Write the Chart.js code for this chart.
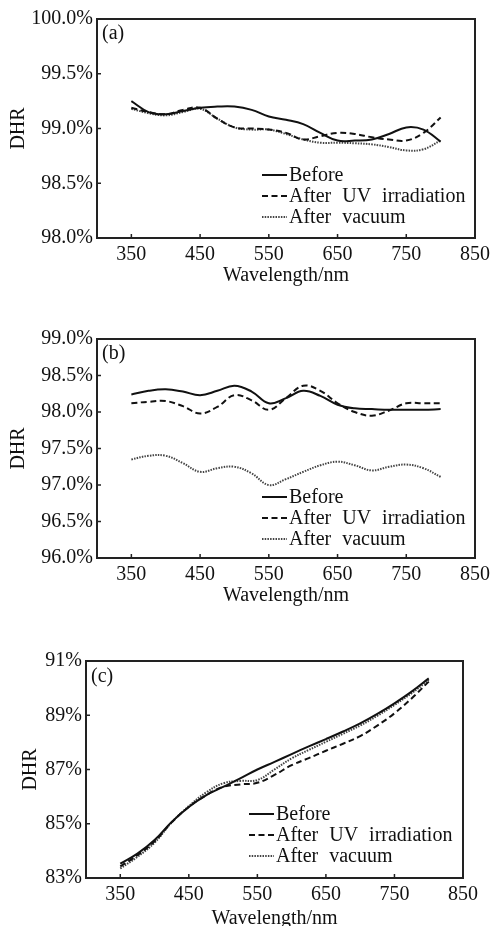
<!DOCTYPE html>
<html>
<head>
<meta charset="utf-8">
<script src="https://cdn.jsdelivr.net/npm/chart.js@4.4.1/dist/chart.umd.min.js"></script>
<style>
  body { margin: 0; width: 492px; height: 926px; overflow: hidden; background: #fff; }
  .panel { position: absolute; left: 0; width: 492px; }
</style>
</head>
<body>
<div class="panel" style="top:0"><canvas id="chartA" width="492" height="300"></canvas></div>
<div class="panel" style="top:320px"><canvas id="chartB" width="492" height="300"></canvas></div>
<div class="panel" style="top:630px"><canvas id="chartC" width="492" height="305"></canvas></div>
<script>
// shared x values and labels
var wavelengths = [350, 375, 400, 425, 450, 475, 500, 525, 550, 575, 600, 625, 650, 675, 700, 725, 750, 775, 800];
var xTicks = [350, 450, 550, 650, 750, 850];
var seriesNames = ['Before', 'After UV irradiation', 'After vacuum'];
var panelTags = ['(a)', '(b)', '(c)'];

// (a)
var aBefore = [99.25, 99.15, 99.13, 99.16, 99.19, 99.20, 99.20, 99.17, 99.11, 99.08, 99.04, 98.96, 98.89, 98.89, 98.90, 98.95, 99.01, 98.99, 98.88];
var aUV     = [99.19, 99.15, 99.13, 99.17, 99.19, 99.09, 99.01, 99.00, 98.99, 98.96, 98.90, 98.93, 98.96, 98.95, 98.92, 98.90, 98.89, 98.96, 99.10];
var aVacuum = [99.18, 99.14, 99.12, 99.15, 99.18, 99.09, 99.01, 98.99, 98.99, 98.95, 98.90, 98.87, 98.87, 98.865, 98.855, 98.83, 98.80, 98.81, 98.89];
var aYTicks = [98.0, 98.5, 99.0, 99.5, 100.0];

// (b)
var bBefore = [98.24, 98.29, 98.31, 98.28, 98.23, 98.29, 98.36, 98.28, 98.12, 98.19, 98.29, 98.22, 98.10, 98.05, 98.04, 98.03, 98.03, 98.03, 98.04];
var bUV     = [98.12, 98.14, 98.15, 98.08, 97.98, 98.07, 98.23, 98.16, 98.03, 98.19, 98.36, 98.29, 98.12, 98.00, 97.95, 98.02, 98.12, 98.12, 98.12];
var bVacuum = [97.35, 97.40, 97.40, 97.30, 97.18, 97.23, 97.25, 97.16, 97.00, 97.08, 97.18, 97.27, 97.32, 97.27, 97.20, 97.25, 97.28, 97.23, 97.11];
var bYTicks = [96.0, 96.5, 97.0, 97.5, 98.0, 98.5, 99.0];

// (c)
var cBefore = [83.53, 83.90, 84.40, 85.07, 85.62, 86.05, 86.36, 86.67, 87.00, 87.28, 87.57, 87.85, 88.12, 88.40, 88.70, 89.05, 89.44, 89.87, 90.36];
var cUV     = [83.43, 83.84, 84.35, 85.05, 85.62, 86.05, 86.36, 86.45, 86.51, 86.80, 87.16, 87.42, 87.69, 87.95, 88.23, 88.62, 89.07, 89.62, 90.24];
var cVacuum = [83.35, 83.78, 84.30, 85.05, 85.65, 86.15, 86.49, 86.58, 86.61, 87.00, 87.41, 87.72, 88.02, 88.32, 88.62, 88.98, 89.38, 89.81, 90.30];
var cYTicks = [83, 85, 87, 89, 91];

var FONT = '"Liberation Serif", "Times New Roman", serif';
var INK = '#111';

function pts(ys) {
  return wavelengths.map(function (x, i) { return {x: x, y: ys[i]}; });
}

// frame box + inward tick marks
var frameTicks = {
  id: 'frameTicks',
  afterDatasetsDraw: function (chart) {
    var ctx = chart.ctx, a = chart.chartArea, x = chart.scales.x, y = chart.scales.y;
    ctx.save();
    ctx.strokeStyle = '#222';
    ctx.lineWidth = 2;
    ctx.strokeRect(a.left, a.top, a.right - a.left, a.bottom - a.top);
    ctx.lineWidth = 1.5;
    ctx.beginPath();
    x.ticks.forEach(function (t) {
      var px = x.getPixelForValue(t.value);
      ctx.moveTo(px, a.bottom); ctx.lineTo(px, a.bottom - 4);
    });
    y.ticks.forEach(function (t) {
      var py = y.getPixelForValue(t.value);
      ctx.moveTo(a.left, py); ctx.lineTo(a.left + 4, py);
    });
    ctx.stroke();
    ctx.restore();
  }
};

// legend drawn inside the plot, plus the panel tag
var insideLegend = {
  id: 'insideLegend',
  afterDraw: function (chart, args, opts) {
    var ctx = chart.ctx, a = chart.chartArea;
    ctx.save();
    ctx.font = '20px ' + FONT;
    ctx.fillStyle = INK;
    ctx.textBaseline = 'middle';
    ctx.fillText(opts.tag, a.left + 5, a.top + opts.tagY);
    if ('wordSpacing' in ctx) ctx.wordSpacing = '6px';
    chart.data.datasets.forEach(function (ds, i) {
      var ly = a.bottom - opts.bottom + i * 21;
      var lx = a.left + opts.left;
      ctx.beginPath();
      ctx.setLineDash(ds.borderDash || []);
      ctx.lineWidth = ds.borderWidth;
      ctx.strokeStyle = ds.borderColor;
      ctx.moveTo(lx, ly); ctx.lineTo(lx + 25, ly);
      ctx.stroke();
      ctx.setLineDash([]);
      ctx.fillText(ds.label, lx + 27, ly + 1);
    });
    ctx.restore();
  }
};

function makeChart(id, series, yTicks, fmt, box) {
  return new Chart(document.getElementById(id), {
    type: 'line',
    data: {
      datasets: [
        {label: seriesNames[0], data: pts(series[0]), borderColor: '#111', borderWidth: 2, borderDash: []},
        {label: seriesNames[1], data: pts(series[1]), borderColor: '#111', borderWidth: 2, borderDash: [6, 3.5]},
        {label: seriesNames[2], data: pts(series[2]), borderColor: '#444', borderWidth: 2, borderDash: [1.5, 1.2]}
      ]
    },
    options: {
      responsive: false,
      animation: false,
      devicePixelRatio: 1,
      elements: {point: {radius: 0}, line: {tension: 0.4, fill: false}},
      layout: {padding: {top: box.top, right: box.right, left: 0, bottom: 0}},
      plugins: {
        legend: {display: false},
        tooltip: {enabled: false},
        insideLegend: {tag: box.tag, tagY: box.tagY, left: box.legLeft, bottom: box.legBottom}
      },
      scales: {
        x: {
          type: 'linear', min: 300, max: 850,
          afterBuildTicks: function (s) { s.ticks = xTicks.map(function (v) { return {value: v}; }); },
          afterFit: function (s) { s.height = box.xHeight; s.paddingRight = 0; s.paddingLeft = 0; },
          grid: {display: false, drawTicks: false},
          border: {display: false},
          ticks: {padding: 5, color: INK, font: {family: FONT, size: 20}, maxRotation: 0, autoSkip: false,
                  callback: function (v) { return String(v); }},
          title: {display: true, text: 'Wavelength/nm', color: INK, font: {family: FONT, size: 20},
                  padding: {top: 0, bottom: box.xTitlePad}}
        },
        y: {
          type: 'linear', min: yTicks[0], max: yTicks[yTicks.length - 1],
          afterBuildTicks: function (s) { s.ticks = yTicks.map(function (v) { return {value: v}; }); },
          afterFit: function (s) { s.width = box.yWidth; },
          grid: {display: false, drawTicks: false},
          border: {display: false},
          ticks: {padding: 4, color: INK, font: {family: FONT, size: 20}, callback: fmt},
          title: {display: true, text: 'DHR', color: INK, font: {family: FONT, size: 20},
                  padding: {top: box.yTitlePad, bottom: 0}}
        }
      }
    },
    plugins: [frameTicks, insideLegend]
  });
}

var pct1 = function (v) { return v.toFixed(1) + '%'; };
var pct0 = function (v) { return v.toFixed(0) + '%'; };

makeChart('chartA', [aBefore, aUV, aVacuum], aYTicks, pct1,
  {top: 19, right: 17, yWidth: 97, xHeight: 62, xTitlePad: 12, yTitlePad: 7, tag: panelTags[0], tagY: 15, legLeft: 165, legBottom: 63});
makeChart('chartB', [bBefore, bUV, bVacuum], bYTicks, pct1,
  {top: 19, right: 17, yWidth: 97, xHeight: 62, xTitlePad: 12, yTitlePad: 7, tag: panelTags[1], tagY: 15, legLeft: 165, legBottom: 61});
makeChart('chartC', [cBefore, cUV, cVacuum], cYTicks, pct0,
  {top: 31, right: 29, yWidth: 86, xHeight: 57, xTitlePad: 4, yTitlePad: 19, tag: panelTags[2], tagY: 16, legLeft: 163, legBottom: 64});
</script>
</body>
</html>
